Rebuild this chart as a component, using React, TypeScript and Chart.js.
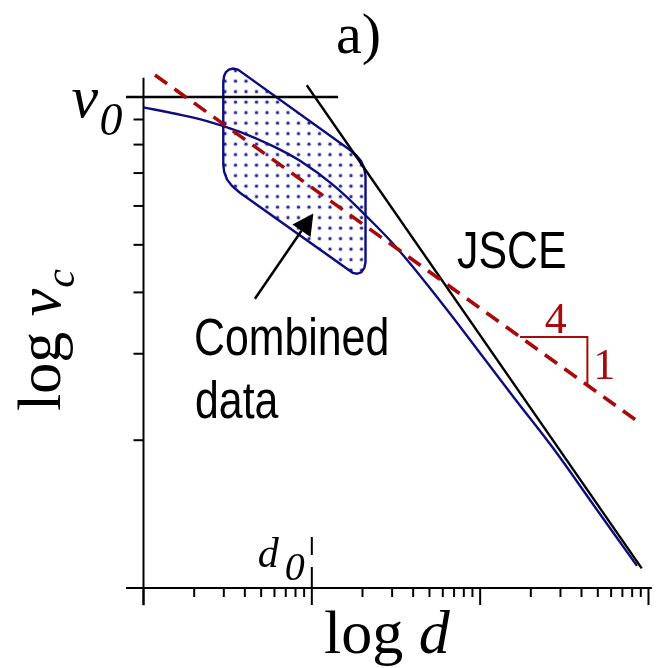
import { useEffect, useRef } from "react";
import { Chart, registerables } from "chart.js";

Chart.register(...registerables);

// All values are decimal logarithms: log d on x, log v_c on y.
const LOG_D0 = 1; // characteristic size d0
const LOG_V0 = 1; // plateau strength v0

// Size-effect curve
const CURVE_LOG_D = [0, 0.175, 0.377, 0.573, 0.769, 0.93, 1.126, 1.316, 1.512, 1.761, 1.981, 2.207, 2.433, 2.682, 2.932];
const CURVE_LOG_V = [0.979, 0.967, 0.951, 0.929, 0.9, 0.87, 0.821, 0.76, 0.69, 0.585, 0.487, 0.385, 0.285, 0.165, 0.045];

// JSCE design line
const JSCE_LOG_D = [0.97, 2.96];
const JSCE_LOG_V = [1.024, 0.04];

// Dashed line of slope -1/4
const QUARTER_LOG_D = [0.068, 2.95];
const QUARTER_LOG_V = [1.045, 0.336];

// Horizontal v0 line
const V0_LOG_D = [-0.104, 1.156];

// Outline of the combined test data region
const REGION_LOG_D = [0.474, 0.479, 0.49, 0.508, 0.532, 0.561, 1.227, 1.262, 1.292, 1.311, 1.319, 1.319, 1.312, 1.294, 1.268, 1.243, 0.573, 0.526, 0.496, 0.479, 0.474, 0.474];
const REGION_LOG_V = [1.031, 1.043, 1.051, 1.056, 1.058, 1.056, 0.892, 0.882, 0.87, 0.855, 0.839, 0.664, 0.652, 0.643, 0.64, 0.642, 0.805, 0.819, 0.832, 0.848, 0.862, 1.031];

// Slope triangle: run 4, rise 1
const TRI_START_LOG_D = 2.237;
const TRI_RUN = 0.4;
const TRI_RISE = 0.1;

// Arrow pointing at the data region
const ARROW_LOG_D = [0.662, 1.009];
const ARROW_LOG_V = [0.589, 0.763];

// Visible range of the plot and of the drawn axes
const X_RANGE = [-0.8525, 3.0447];
const Y_RANGE = [-0.1629, 1.1976];
const X_AXIS_SPAN = [-0.104, 3.02];
const Y_AXIS_SPAN = [-0.035, 1.039];
const X_DECADES = [0, 1, 2, 3];
const X_MINOR_DECADES = [0, 1, 2];
const Y_MINOR_DECADES = [0];

const NAVY = "#0d0d80";
const DARK_RED = "#a50b0b";
const SERIF = '"Liberation Serif", "Times New Roman", serif';
const SANS = '"Liberation Sans", Arial, sans-serif';

const pts = (xs: number[], ys: number[]) => xs.map((x, i) => ({ x, y: ys[i] }));

const quarterAt = (lx: number) =>
  QUARTER_LOG_V[0] +
  ((QUARTER_LOG_V[1] - QUARTER_LOG_V[0]) / (QUARTER_LOG_D[1] - QUARTER_LOG_D[0])) * (lx - QUARTER_LOG_D[0]);

const triTop = quarterAt(TRI_START_LOG_D);
const TRI_LOG_D = [TRI_START_LOG_D, TRI_START_LOG_D + TRI_RUN, TRI_START_LOG_D + TRI_RUN];
const TRI_LOG_V = [triTop, triTop, triTop - TRI_RISE];

function seg(ctx: CanvasRenderingContext2D, x1: number, y1: number, x2: number, y2: number) {
  ctx.beginPath();
  ctx.moveTo(x1, y1);
  ctx.lineTo(x2, y2);
  ctx.stroke();
}

const axesPlugin = {
  id: "logAxes",
  beforeDatasetsDraw(chart: any) {
    const { ctx, scales } = chart;
    const X = (v: number) => scales.x.getPixelForValue(v);
    const Y = (v: number) => scales.y.getPixelForValue(v);
    ctx.save();
    ctx.strokeStyle = "#000";
    ctx.lineWidth = 2;
    // axis lines
    seg(ctx, X(X_AXIS_SPAN[0]), Y(0), X(X_AXIS_SPAN[1]), Y(0));
    seg(ctx, X(0), Y(Y_AXIS_SPAN[0]), X(0), Y(Y_AXIS_SPAN[1]));
    // x ticks
    for (const n of X_MINOR_DECADES) {
      for (let k = 2; k <= 9; k++) {
        const px = X(n + Math.log10(k));
        seg(ctx, px, Y(0), px, Y(0) + 9);
      }
    }
    for (const n of X_DECADES) {
      seg(ctx, X(n), Y(0), X(n), Y(0) + 17);
    }
    // y ticks
    for (const n of Y_MINOR_DECADES) {
      for (let k = 2; k <= 9; k++) {
        const py = Y(n + Math.log10(k));
        seg(ctx, X(0) - 10, py, X(0), py);
      }
    }
    // d0 marker
    const xd = X(LOG_D0);
    seg(ctx, xd, Y(0), xd, Y(0) - 21);
    seg(ctx, xd, Y(0) - 33, xd, Y(0) - 51);
    ctx.restore();
  },
};

function sansText(ctx: CanvasRenderingContext2D, text: string, x: number, y: number) {
  ctx.save();
  ctx.translate(x, y);
  ctx.scale(0.84, 1);
  ctx.font = `51px ${SANS}`;
  ctx.fillText(text, 0, 0);
  ctx.restore();
}

const labelsPlugin = {
  id: "labels",
  afterDatasetsDraw(chart: any) {
    const { ctx, scales } = chart;
    const X = (v: number) => scales.x.getPixelForValue(v);
    const Y = (v: number) => scales.y.getPixelForValue(v);
    ctx.save();
    ctx.textAlign = "left";
    ctx.textBaseline = "alphabetic";
    ctx.fillStyle = "#000";

    // arrow
    const x1 = X(ARROW_LOG_D[0]);
    const y1 = Y(ARROW_LOG_V[0]);
    const x2 = X(ARROW_LOG_D[1]);
    const y2 = Y(ARROW_LOG_V[1]);
    const ang = Math.atan2(y2 - y1, x2 - x1);
    const L = 21;
    const W = 11;
    const bx = x2 - L * Math.cos(ang);
    const by = y2 - L * Math.sin(ang);
    ctx.strokeStyle = "#000";
    ctx.lineWidth = 2.5;
    seg(ctx, x1, y1, bx, by);
    ctx.beginPath();
    ctx.moveTo(x2, y2);
    ctx.lineTo(bx + W * Math.sin(ang), by - W * Math.cos(ang));
    ctx.lineTo(bx - W * Math.sin(ang), by + W * Math.cos(ang));
    ctx.closePath();
    ctx.fill();

    // panel tag
    ctx.font = `58px ${SERIF}`;
    ctx.fillText("a)", 336, 53);

    // v0 label
    const yv0 = Y(LOG_V0);
    ctx.font = `italic 60px ${SERIF}`;
    ctx.fillText("v", X(0) - 72, yv0 + 20);
    ctx.font = `italic 46px ${SERIF}`;
    ctx.fillText("0", X(0) - 44, yv0 + 38);

    // d0 label
    const xd0 = X(LOG_D0);
    ctx.font = `italic 42px ${SERIF}`;
    ctx.fillText("d", xd0 - 54, Y(0) - 21);
    ctx.font = `italic 40px ${SERIF}`;
    ctx.fillText("0", xd0 - 27, Y(0) - 8);

    // x axis title
    ctx.font = `62px ${SERIF}`;
    ctx.fillText("log", 324, 653);
    const wLog = ctx.measureText("log ").width;
    ctx.font = `italic 62px ${SERIF}`;
    ctx.fillText("d", 324 + wLog, 653);

    // y axis title
    ctx.save();
    ctx.translate(60, 411);
    ctx.rotate(-Math.PI / 2);
    ctx.font = `62px ${SERIF}`;
    ctx.fillText("log", 0, 0);
    const wl = ctx.measureText("log ").width;
    ctx.font = `italic 62px ${SERIF}`;
    ctx.fillText("v", wl, 0);
    const wv = ctx.measureText("v").width;
    ctx.font = `italic 42px ${SERIF}`;
    ctx.fillText("c", wl + wv + 1, 14);
    ctx.restore();

    // text labels
    sansText(ctx, "JSCE", 457, 268);
    sansText(ctx, "Combined", 194, 355);
    sansText(ctx, "data", 195, 418);

    // slope numbers
    ctx.fillStyle = DARK_RED;
    ctx.font = `44px ${SERIF}`;
    ctx.textAlign = "center";
    ctx.fillText("4", (X(TRI_LOG_D[0]) + X(TRI_LOG_D[1])) / 2 + 2, Y(TRI_LOG_V[0]) - 4);
    ctx.textAlign = "left";
    ctx.fillText("1", X(TRI_LOG_D[1]) + 6, Y(TRI_LOG_V[2]) - 7);
    ctx.restore();
  },
};

export default function App() {
  const ref = useRef<HTMLCanvasElement>(null);

  useEffect(() => {
    const canvas = ref.current;
    if (!canvas) return;

    // dotted fill for the data region
    const tile = document.createElement("canvas");
    tile.width = 21;
    tile.height = 21;
    const t = tile.getContext("2d")!;
    t.fillStyle = "#ffffff";
    t.fillRect(0, 0, 21, 21);
    for (const [a, b] of [
      [4.5, 7.7],
      [15, 7.7],
      [4.5, 18.2],
      [15, 18.2],
    ]) {
      t.fillStyle = "rgba(100,100,200,0.35)";
      t.beginPath();
      t.arc(a, b, 2.4, 0, Math.PI * 2);
      t.fill();
      t.fillStyle = "#2a2a98";
      t.beginPath();
      t.arc(a, b, 1.4, 0, Math.PI * 2);
      t.fill();
    }
    const dots = canvas.getContext("2d")!.createPattern(tile, "repeat")!;

    const chart = new Chart(canvas, {
      type: "scatter",
      data: {
        datasets: [
          {
            label: "region",
            data: pts(REGION_LOG_D, REGION_LOG_V),
            showLine: true,
            fill: "shape",
            backgroundColor: dots as any,
            borderColor: NAVY,
            borderWidth: 2.4,
            pointRadius: 0,
            tension: 0,
            order: 10,
          },
          {
            label: "v0",
            data: pts(V0_LOG_D, [LOG_V0, LOG_V0]),
            showLine: true,
            borderColor: "#000",
            borderWidth: 2.5,
            pointRadius: 0,
            order: 5,
          },
          {
            label: "curve",
            data: pts(CURVE_LOG_D, CURVE_LOG_V),
            showLine: true,
            borderColor: NAVY,
            borderWidth: 2.4,
            pointRadius: 0,
            tension: 0.4,
            order: 4,
          },
          {
            label: "JSCE",
            data: pts(JSCE_LOG_D, JSCE_LOG_V),
            showLine: true,
            borderColor: "#000",
            borderWidth: 2.4,
            pointRadius: 0,
            order: 3,
          },
          {
            label: "slope",
            data: pts(TRI_LOG_D, TRI_LOG_V),
            showLine: true,
            borderColor: DARK_RED,
            borderWidth: 2,
            pointRadius: 0,
            order: 2,
          },
          {
            label: "quarter",
            data: pts(QUARTER_LOG_D, QUARTER_LOG_V),
            showLine: true,
            borderColor: DARK_RED,
            borderWidth: 3.6,
            borderDash: [15, 9],
            pointRadius: 0,
            order: 1,
          },
        ] as any,
      },
      options: {
        animation: false,
        responsive: false,
        maintainAspectRatio: false,
        devicePixelRatio: 1,
        layout: { padding: 0 },
        events: [],
        plugins: { legend: { display: false }, tooltip: { enabled: false } },
        scales: {
          x: { type: "linear", display: false, min: X_RANGE[0], max: X_RANGE[1] },
          y: { type: "linear", display: false, min: Y_RANGE[0], max: Y_RANGE[1] },
        },
      },
      plugins: [axesPlugin, labelsPlugin],
    });

    return () => chart.destroy();
  }, []);

  return (
    <div style={{ position: "fixed", left: 0, top: 0, width: 656, height: 668, background: "#fff" }}>
      <canvas ref={ref} width={656} height={668} style={{ display: "block" }} />
    </div>
  );
}
